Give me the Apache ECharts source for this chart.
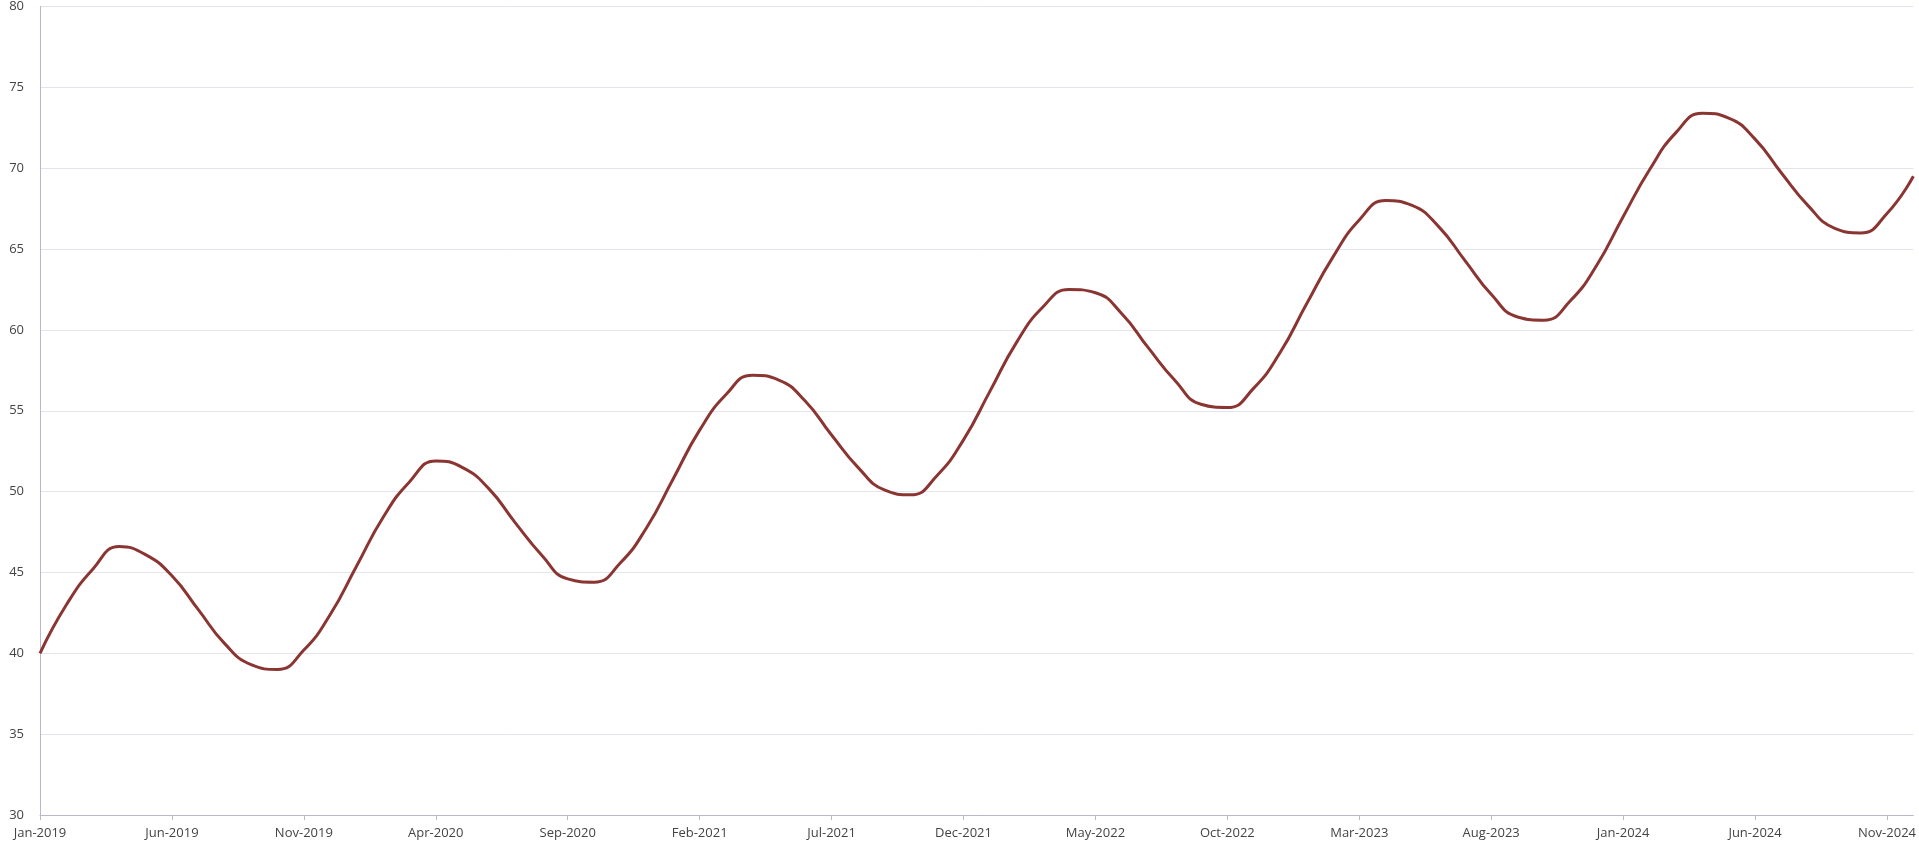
<!DOCTYPE html>
<html>
<head>
<meta charset="utf-8">
<script src="https://cdn.jsdelivr.net/npm/echarts@6/dist/echarts.min.js"></script>
<style>
  html, body { margin: 0; padding: 0; background: #fff; }
  #main { width: 1919px; height: 856px; }
</style>
</head>
<body>
<div id="main"></div>
<script>
var months = ['Jan', 'Feb', 'Mar', 'Apr', 'May', 'Jun', 'Jul', 'Aug', 'Sep', 'Oct', 'Nov', 'Dec'];
var years = [2019, 2020, 2021, 2022, 2023, 2024];

var values = [
  40, 43, 45.2, 46.6, 46.1, 44.8, 42.7, 40.6, 39.3, 39, 40.2, 42.4,
  45.4, 48.4, 50.6, 51.9, 51.5, 50.2, 48.1, 46.1, 44.6, 44.4, 45.6, 47.8,
  50.8, 53.8, 56, 57.2, 56.9, 55.6, 53.5, 51.5, 50.1, 49.8, 51, 53.2,
  56.2, 59.2, 61.4, 62.5, 62.3, 61, 58.9, 56.9, 55.4, 55.2, 56.4, 58.6,
  61.6, 64.5, 66.8, 68, 67.7, 66.4, 64.3, 62.2, 60.8, 60.6, 61.8, 64,
  67, 69.9, 72.2, 73.4, 73.1, 71.8, 69.7, 67.7, 66.3, 66, 67.2, 69.5
];

var categories = [];
years.forEach(function (y) {
  months.forEach(function (m) { categories.push(m + '-' + y); });
});

var chart = echarts.init(document.getElementById('main'));

var option = {
  animation: false,
  grid: {
    top: 6,
    left: 40,
    right: 0,
    bottom: 41
  },
  xAxis: {
    type: 'category',
    boundaryGap: false,
    data: categories,
    axisLine: { lineStyle: { color: '#b8b8c8' } },
    axisTick: { show: true, interval: 4, lineStyle: { color: '#b8b8c8' } },
    axisLabel: { interval: 4, color: '#444', fontSize: 13, margin: 12, fontFamily: 'Open Sans' }
  },
  yAxis: {
    type: 'value',
    min: 30,
    max: 80,
    interval: 5,
    axisLine: { show: true, lineStyle: { color: '#b8b8c8' } },
    axisTick: { show: false },
    axisLabel: { color: '#444', fontSize: 13, margin: 16, fontFamily: 'Open Sans' },
    splitLine: { lineStyle: { color: '#e4e4ee' } }
  },
  series: [
    {
      type: 'line',
      data: values,
      smooth: 0.5,
      showSymbol: true,
      symbol: 'circle',
      symbolSize: 2,
      itemStyle: { color: '#8b3533', opacity: 0 },
      lineStyle: { color: '#8b3533', width: 3 },
      label: {
        show: true,
        position: 'inside',
        color: '#fff',
        fontSize: 14,
        fontFamily: 'Open Sans',
        backgroundColor: '#8b3533',
        borderRadius: 6,
        padding: [6, 7]
      },
      labelLayout: { hideOverlap: false }
    }
  ]
};

chart.setOption(option);
</script>
</body>
</html>
